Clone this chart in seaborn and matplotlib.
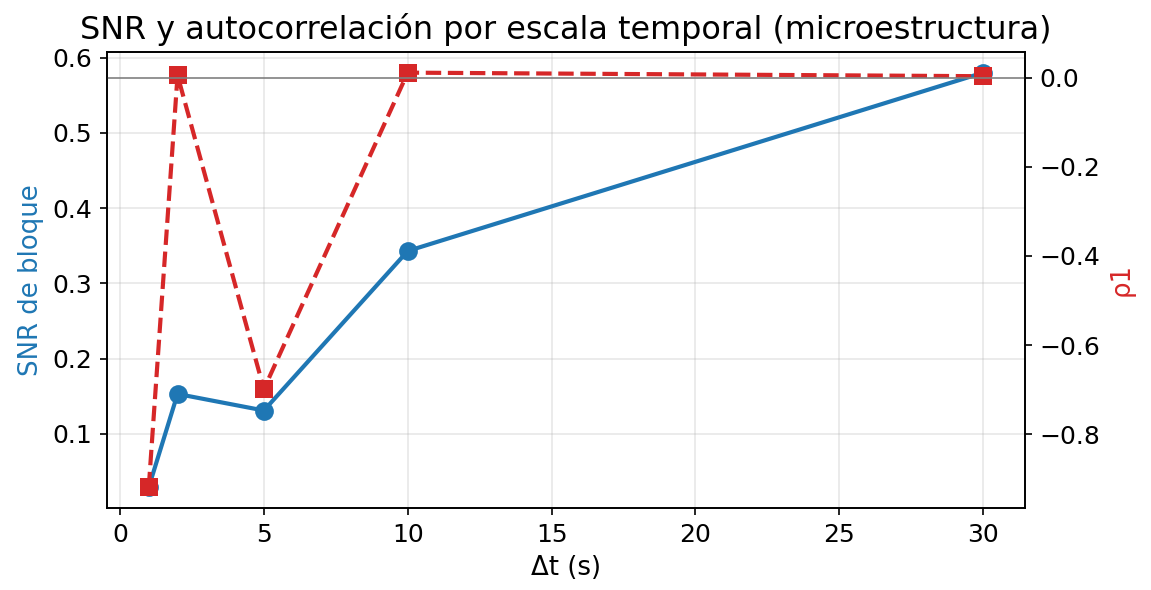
import matplotlib
matplotlib.use("Agg")
import matplotlib.pyplot as plt
import seaborn as sns
import pandas as pd

dt = [1, 2, 5, 10, 30]
snr = [0.029, 0.153, 0.131, 0.343, 0.580]
rho1 = [-0.919, 0.005, -0.699, 0.011, 0.003]

df = pd.DataFrame({"dt": dt, "snr": snr, "rho1": rho1})

plt.rcParams['font.family'] = ['DejaVu Sans']
fig = plt.figure(figsize=(1151/150, 590/150), dpi=150)
ax = fig.add_axes([0.093, 0.139, 0.7975, 0.773])

sns.lineplot(data=df, x="dt", y="snr", ax=ax, color="tab:blue", marker="o",
             markersize=9, linewidth=2, markeredgewidth=0)
ax.set_xlabel("Δt (s)", fontsize=12.5)
ax.set_ylabel("SNR de bloque", color="tab:blue", fontsize=12.5)
ax.grid(True, alpha=0.3)
ax.tick_params(labelsize=12)

ax2 = ax.twinx()
sns.lineplot(data=df, x="dt", y="rho1", ax=ax2, color="tab:red", marker="s",
             markersize=9, linewidth=2, linestyle="--", markeredgewidth=0)
ax2.axhline(0, color="gray", linewidth=0.8)
ax2.set_ylabel("ρ1", color="tab:red", fontsize=12.5)
ax2.tick_params(labelsize=12)

ax.set_title("SNR y autocorrelación por escala temporal (microestructura)", fontsize=15.3)

fig.savefig("out.png", dpi=150)
